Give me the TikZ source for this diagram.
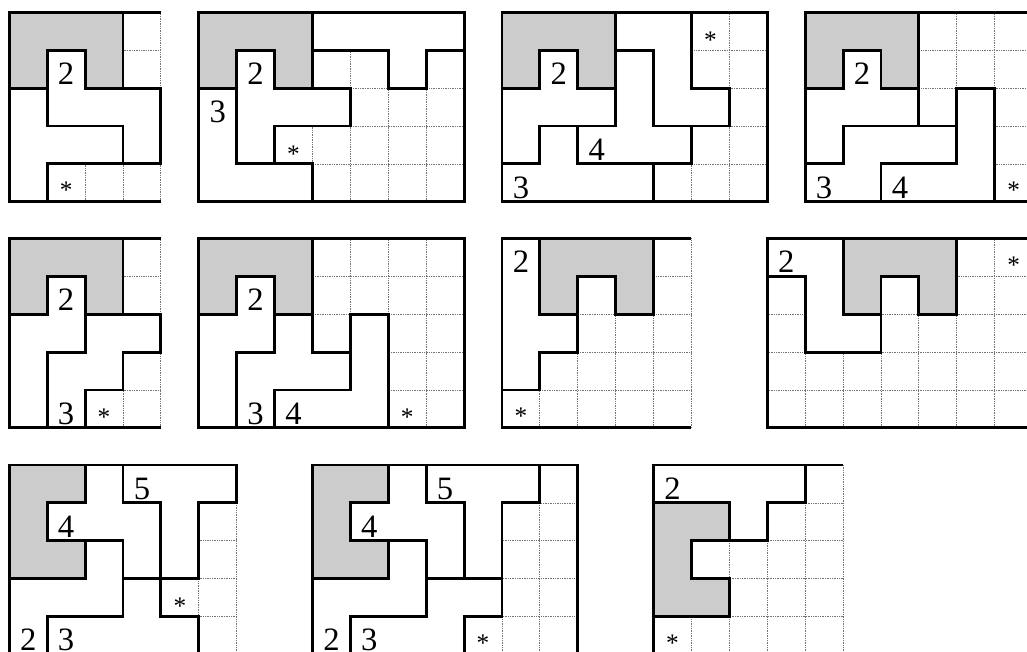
\documentclass[tikz,border=0pt]{standalone}
\usepackage{fontspec}
\setmainfont{Liberation Serif}
\pgfdeclarelayer{gridl}
\pgfdeclarelayer{fills}
\pgfsetlayers{gridl,fills,main}
\tikzset{
  dotgrid/.style={draw=black!55, line width=0.6pt, dash pattern=on 0.6pt off 0.7pt},
  pieceline/.style={draw=black, line width=2.2pt, line join=miter},
  borderline/.style={draw=black, line width=2.2pt, line join=miter},
  lab/.style={font=\fontsize{24.5}{24.5}\selectfont, anchor=base, inner sep=0pt},
  starlab/.style={font=\fontsize{19}{19}\selectfont, anchor=base, inner sep=0pt},
}
\colorlet{gfill}{black!20}
\newcommand\mygrid[2]{%
  \begin{pgfonlayer}{gridl}
    \foreach \i in {0,...,#1} {\draw[dotgrid] (\i,0) -- (\i,-#2);}
    \foreach \j in {0,...,#2} {\draw[dotgrid] (0,-\j) -- (#1,-\j);}
  \end{pgfonlayer}}
\newcommand\mypiece[2]{%
  \begin{pgfonlayer}{fills}\fill[#1] #2 -- cycle;\end{pgfonlayer}
  \draw[pieceline] #2 -- cycle;}
\newcommand\stdgray{\mypiece{gfill}{(0,0) -- (3,0) -- (3,-2) -- (2,-2) -- (2,-1) -- (1,-1) -- (1,-2) -- (0,-2)}}
\begin{document}
\begin{tikzpicture}[x=1cm,y=1cm]
\useasboundingbox (0,0) rectangle (27.098,-17.203);

% ---------------- Panel 1
\begin{scope}[shift={(0.245,-0.325)}]
  \mygrid{4}{5}
  \stdgray
  \mypiece{white}{(1,-1) -- (2,-1) -- (2,-2) -- (4,-2) -- (4,-4) -- (3,-4) -- (3,-3) -- (1,-3)}
  \mypiece{white}{(0,-2) -- (1,-2) -- (1,-3) -- (3,-3) -- (3,-4) -- (1,-4) -- (1,-5) -- (0,-5)}
  \draw[borderline] (4,0) -- (0,0) -- (0,-5) -- (4,-5);
  \node[lab] (p1a) at (1.5,-1.9) {2};
  \node[starlab] (p1s) at (1.5,-4.92) {*};
\end{scope}

% ---------------- Panel 2
\begin{scope}[shift={(5.245,-0.325)}]
  \mygrid{7}{5}
  \stdgray
  \mypiece{white}{(1,-1) -- (2,-1) -- (2,-2) -- (4,-2) -- (4,-3) -- (2,-3) -- (2,-4) -- (1,-4)}
  \mypiece{white}{(0,-2) -- (1,-2) -- (1,-4) -- (3,-4) -- (3,-5) -- (0,-5)}
  \mypiece{white}{(3,0) -- (7,0) -- (7,-1) -- (6,-1) -- (6,-2) -- (5,-2) -- (5,-1) -- (3,-1)}
  \draw[borderline] (0,0) rectangle (7,-5);
  \node[lab] (p2a) at (1.5,-1.9) {2};
  \node[lab] (p2b) at (0.5,-2.9) {3};
  \node[starlab] (p2s) at (2.5,-3.95) {*};
\end{scope}

% ---------------- Panel 3
\begin{scope}[shift={(13.245,-0.325)}]
  \mygrid{7}{5}
  \stdgray
  \mypiece{white}{(0,-2) -- (1,-2) -- (1,-1) -- (2,-1) -- (2,-2) -- (3,-2) -- (3,-3) -- (1,-3) -- (1,-4) -- (0,-4)}
  \mypiece{white}{(1,-3) -- (2,-3) -- (2,-4) -- (4,-4) -- (4,-5) -- (0,-5) -- (0,-4) -- (1,-4)}
  \mypiece{white}{(3,0) -- (5,0) -- (5,-2) -- (6,-2) -- (6,-3) -- (4,-3) -- (4,-1) -- (3,-1)}
  \mypiece{white}{(3,-1) -- (4,-1) -- (4,-3) -- (5,-3) -- (5,-4) -- (2,-4) -- (2,-3) -- (3,-3)}
  \draw[borderline] (0,0) rectangle (7,-5);
  \node[lab] (p3a) at (1.5,-1.9) {2};
  \node[lab] (p3b) at (2.5,-3.9) {4};
  \node[lab] (p3c) at (0.5,-4.9) {3};
  \node[starlab] (p3s) at (5.5,-0.95) {*};
\end{scope}

% ---------------- Panel 4
\begin{scope}[shift={(21.245,-0.325)}]
  \mygrid{7}{5}
  \stdgray
  \mypiece{white}{(0,-2) -- (1,-2) -- (1,-1) -- (2,-1) -- (2,-2) -- (3,-2) -- (3,-3) -- (1,-3) -- (1,-4) -- (0,-4)}
  \mypiece{white}{(1,-3) -- (4,-3) -- (4,-4) -- (2,-4) -- (2,-5) -- (0,-5) -- (0,-4) -- (1,-4)}
  \mypiece{white}{(4,-2) -- (5,-2) -- (5,-5) -- (2,-5) -- (2,-4) -- (4,-4)}
  \draw[borderline] (0,0) rectangle (7,-5);
  \node[lab] (p4a) at (1.5,-1.9) {2};
  \node[lab] (p4b) at (0.5,-4.9) {3};
  \node[lab] (p4c) at (2.5,-4.9) {4};
  \node[starlab] (p4s) at (5.5,-4.92) {*};
\end{scope}

% ---------------- Panel 5
\begin{scope}[shift={(0.245,-6.29)}]
  \mygrid{4}{5}
  \stdgray
  \mypiece{white}{(1,-1) -- (2,-1) -- (2,-3) -- (1,-3) -- (1,-5) -- (0,-5) -- (0,-2) -- (1,-2)}
  \mypiece{white}{(2,-2) -- (4,-2) -- (4,-3) -- (3,-3) -- (3,-4) -- (2,-4) -- (2,-5) -- (1,-5) -- (1,-3) -- (2,-3)}
  \draw[borderline] (4,0) -- (0,0) -- (0,-5) -- (4,-5);
  \node[lab] (p5a) at (1.5,-1.9) {2};
  \node[lab] (p5b) at (1.5,-4.9) {3};
  \node[starlab] (p5s) at (2.5,-4.95) {*};
\end{scope}

% ---------------- Panel 6
\begin{scope}[shift={(5.245,-6.29)}]
  \mygrid{7}{5}
  \stdgray
  \mypiece{white}{(1,-1) -- (2,-1) -- (2,-3) -- (1,-3) -- (1,-5) -- (0,-5) -- (0,-2) -- (1,-2)}
  \mypiece{white}{(2,-2) -- (3,-2) -- (3,-3) -- (4,-3) -- (4,-4) -- (2,-4) -- (2,-5) -- (1,-5) -- (1,-3) -- (2,-3)}
  \mypiece{white}{(4,-2) -- (5,-2) -- (5,-5) -- (2,-5) -- (2,-4) -- (4,-4)}
  \draw[borderline] (0,0) rectangle (7,-5);
  \node[lab] (p6a) at (1.5,-1.9) {2};
  \node[lab] (p6b) at (1.5,-4.9) {3};
  \node[lab] (p6c) at (2.5,-4.9) {4};
  \node[starlab] (p6s) at (5.5,-4.95) {*};
\end{scope}

% ---------------- Panel 7
\begin{scope}[shift={(13.245,-6.29)}]
  \mygrid{5}{5}
  \mypiece{gfill}{(1,0) -- (4,0) -- (4,-2) -- (3,-2) -- (3,-1) -- (2,-1) -- (2,-2) -- (1,-2)}
  \mypiece{white}{(0,0) -- (1,0) -- (1,-2) -- (2,-2) -- (2,-3) -- (1,-3) -- (1,-4) -- (0,-4)}
  \draw[borderline] (5,0) -- (0,0) -- (0,-5) -- (5,-5);
  \node[lab] (p7a) at (0.5,-0.9) {2};
  \node[starlab] (p7s) at (0.5,-4.92) {*};
\end{scope}

% ---------------- Panel 8
\begin{scope}[shift={(20.245,-6.29)}]
  \mygrid{7}{5}
  \mypiece{gfill}{(2,0) -- (5,0) -- (5,-2) -- (4,-2) -- (4,-1) -- (3,-1) -- (3,-2) -- (2,-2)}
  \mypiece{white}{(0,0) -- (2,0) -- (2,-2) -- (3,-2) -- (3,-3) -- (1,-3) -- (1,-1) -- (0,-1)}
  \draw[borderline] (0,0) rectangle (7,-5);
  \node[lab] (p8a) at (0.5,-0.9) {2};
  \node[starlab] (p8s) at (6.5,-0.92) {*};
\end{scope}

% ---------------- Panel 9
\begin{scope}[shift={(0.245,-12.27)}]
  \mygrid{6}{5}
  \mypiece{gfill}{(0,0) -- (2,0) -- (2,-1) -- (1,-1) -- (1,-2) -- (2,-2) -- (2,-3) -- (0,-3)}
  \mypiece{white}{(2,0) -- (3,0) -- (3,-1) -- (4,-1) -- (4,-3) -- (3,-3) -- (3,-2) -- (1,-2) -- (1,-1) -- (2,-1)}
  \mypiece{white}{(3,0) -- (6,0) -- (6,-1) -- (5,-1) -- (5,-3) -- (4,-3) -- (4,-1) -- (3,-1)}
  \mypiece{white}{(2,-2) -- (3,-2) -- (3,-4) -- (1,-4) -- (1,-5) -- (0,-5) -- (0,-3) -- (2,-3)}
  \mypiece{white}{(3,-3) -- (4,-3) -- (4,-4) -- (5,-4) -- (5,-5) -- (1,-5) -- (1,-4) -- (3,-4)}
  \draw[borderline] (6,0) -- (0,0) -- (0,-5) -- (6,-5);
  \node[lab] (p9a) at (1.5,-1.9) {4};
  \node[lab] (p9b) at (3.5,-0.9) {5};
  \node[lab] (p9c) at (0.5,-4.9) {2};
  \node[lab] (p9d) at (1.5,-4.9) {3};
  \node[starlab] (p9s) at (4.5,-3.95) {*};
\end{scope}

% ---------------- Panel 10
\begin{scope}[shift={(8.245,-12.27)}]
  \mygrid{7}{5}
  \mypiece{gfill}{(0,0) -- (2,0) -- (2,-1) -- (1,-1) -- (1,-2) -- (2,-2) -- (2,-3) -- (0,-3)}
  \mypiece{white}{(2,0) -- (3,0) -- (3,-1) -- (4,-1) -- (4,-3) -- (3,-3) -- (3,-2) -- (1,-2) -- (1,-1) -- (2,-1)}
  \mypiece{white}{(3,0) -- (6,0) -- (6,-1) -- (5,-1) -- (5,-3) -- (4,-3) -- (4,-1) -- (3,-1)}
  \mypiece{white}{(2,-2) -- (3,-2) -- (3,-4) -- (1,-4) -- (1,-5) -- (0,-5) -- (0,-3) -- (2,-3)}
  \mypiece{white}{(3,-3) -- (5,-3) -- (5,-4) -- (4,-4) -- (4,-5) -- (1,-5) -- (1,-4) -- (3,-4)}
  \draw[borderline] (0,0) rectangle (7,-5);
  \node[lab] (p10a) at (1.5,-1.9) {4};
  \node[lab] (p10b) at (3.5,-0.9) {5};
  \node[lab] (p10c) at (0.5,-4.9) {2};
  \node[lab] (p10d) at (1.5,-4.9) {3};
  \node[starlab] (p10s) at (4.5,-4.92) {*};
\end{scope}

% ---------------- Panel 11
\begin{scope}[shift={(17.245,-12.27)}]
  \mygrid{5}{5}
  \mypiece{gfill}{(0,-1) -- (2,-1) -- (2,-2) -- (1,-2) -- (1,-3) -- (2,-3) -- (2,-4) -- (0,-4)}
  \mypiece{white}{(0,0) -- (4,0) -- (4,-1) -- (3,-1) -- (3,-2) -- (2,-2) -- (2,-1) -- (0,-1)}
  \draw[borderline] (5,0) -- (0,0) -- (0,-5) -- (5,-5);
  \node[lab] (p11a) at (0.5,-0.9) {2};
  \node[starlab] (p11s) at (0.5,-4.92) {*};
\end{scope}
\end{tikzpicture}
\end{document}
